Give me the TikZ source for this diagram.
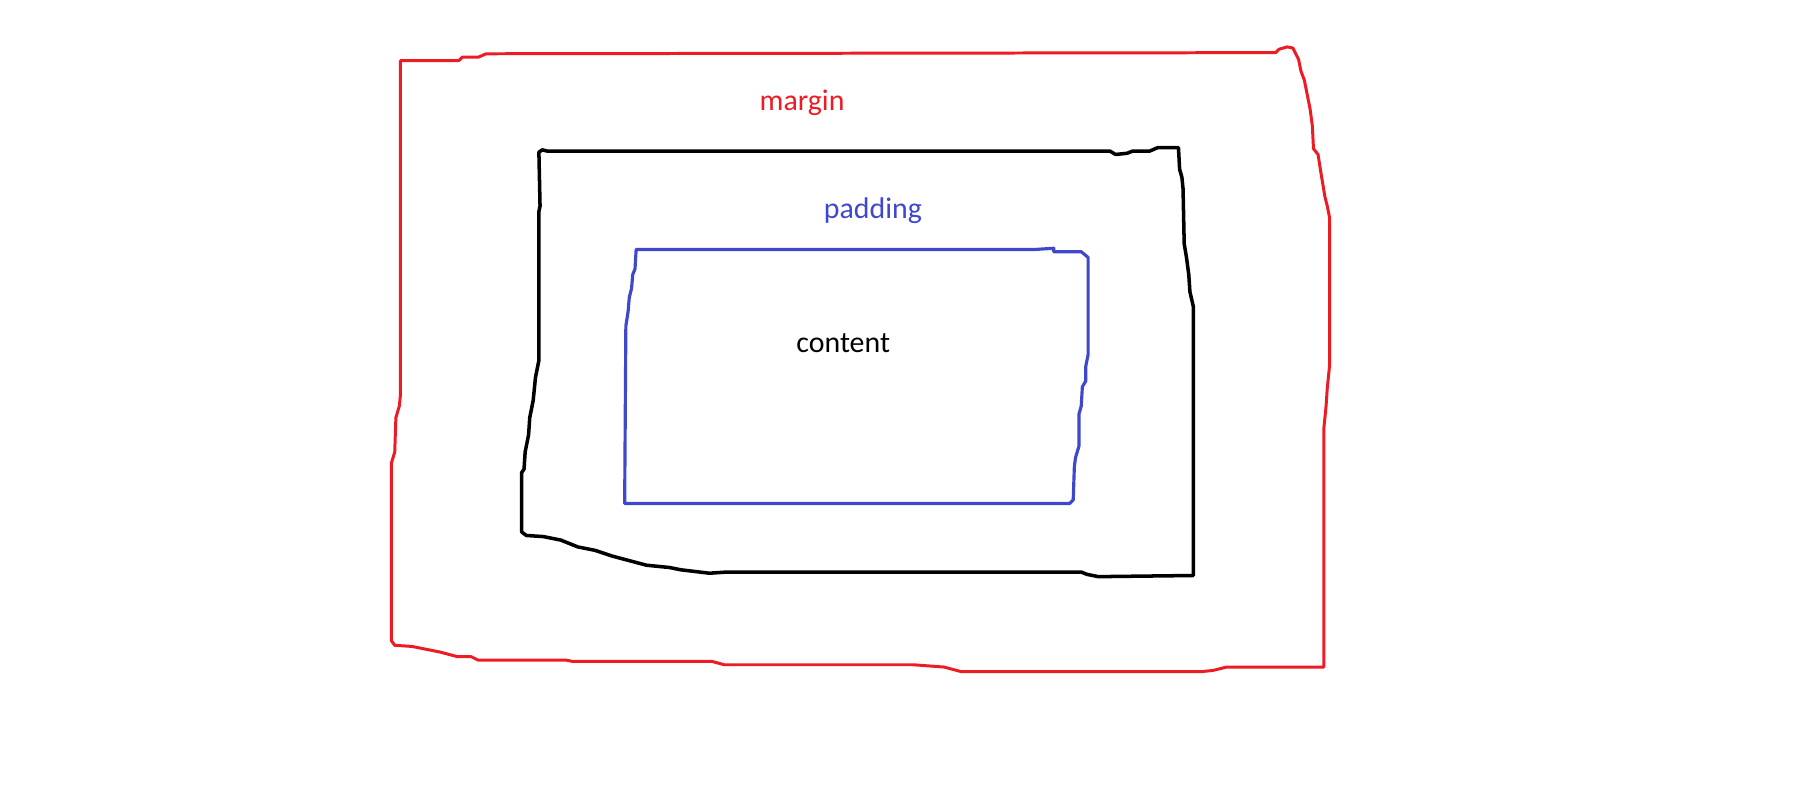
\documentclass[tikz,border=0pt]{standalone}
\usepackage{fontspec}
\setmainfont{Carlito}
\usepackage{tikz}
\usetikzlibrary{positioning}
\definecolor{paintred}{RGB}{237,28,36}
\definecolor{paintblue}{RGB}{63,72,204}
\tikzset{
    linem/.style = {draw=paintred,line width=0.85pt,line join=round,line cap=round}, % margin
    lineb/.style = {draw=black,line width=1pt,line join=round,line cap=round}, % border
    linep/.style = {draw=paintblue,line width=0.9pt,line join=round,line cap=round}, % padding
    mytext/.style = {inner sep=0pt,font=\fontsize{8.5}{10}\selectfont},
}
\begin{document}
\begin{tikzpicture}[x=0.1144mm,y=-0.1144mm]
\useasboundingbox (0,0) rectangle (1568,696);
%
\draw[linem] (350,53) -- (401,53) -- (404,50) -- (418,50) -- (425,47) -- (1115,46)
  -- (1118,43) -- (1125,41) -- (1130,42) -- (1135,52) -- (1137,62) -- (1140,70)
  -- (1142,80) -- (1145,95) -- (1147,110) -- (1148,130) -- (1152,135) -- (1154,148)
  -- (1156,160) -- (1158,172) -- (1160,180) -- (1162,190) -- (1162,320) -- (1160,340)
  -- (1159,355) -- (1157,375) -- (1157,583) -- (1072,583) -- (1060,586) -- (1050,587)
  -- (840,587) -- (825,583) -- (798,581) -- (633,581) -- (622,578) -- (500,578)
  -- (495,577) -- (418,577) -- (412,574) -- (400,574) -- (385,570) -- (370,567)
  -- (360,565) -- (345,564) -- (342,560) -- (342,405) -- (345,395) -- (346,365)
  -- (349,355) -- (350,345) -- cycle;
\draw[lineb] (471,133) -- (474,131) -- (478,132) -- (970,132) -- (975,135) -- (985,134)
  -- (990,132) -- (1005,132) -- (1012,129) -- (1030,129) -- (1031,148) -- (1033,155)
  -- (1034,165) -- (1035,213) -- (1037,225) -- (1039,240) -- (1040,255) -- (1043,268)
  -- (1043,503) -- (960,504) -- (950,502) -- (945,500) -- (635,500) -- (620,501)
  -- (595,498) -- (585,496) -- (565,494) -- (550,490) -- (535,486) -- (520,481)
  -- (505,478) -- (490,472) -- (475,469) -- (460,468) -- (456,465) -- (456,413)
  -- (458,410) -- (459,395) -- (462,380) -- (463,365) -- (466,350) -- (468,330)
  -- (471,315) -- (471,185) -- (472,180) -- cycle;
\draw[linep] (556,218) -- (905,218) -- (921,217) -- (921,220) -- (945,220) -- (951,225)
  -- (951,310) -- (949,320) -- (949,333) -- (946,338) -- (945,355) -- (943,362)
  -- (943,390) -- (940,400) -- (939,408) -- (938,437) -- (935,440) -- (546,440)
  -- (546,435) -- (547,285) -- (549,272) -- (550,260) -- (552,252) -- (553,240)
  -- (555,235) -- cycle;
%
\node[mytext,text=paintred] at (701,90) (margin) {margin};
\node[mytext,text=paintblue] at (763,184) (padding) {padding};
\node[mytext] at (737,300) (content) {content};
\end{tikzpicture}
\end{document}
